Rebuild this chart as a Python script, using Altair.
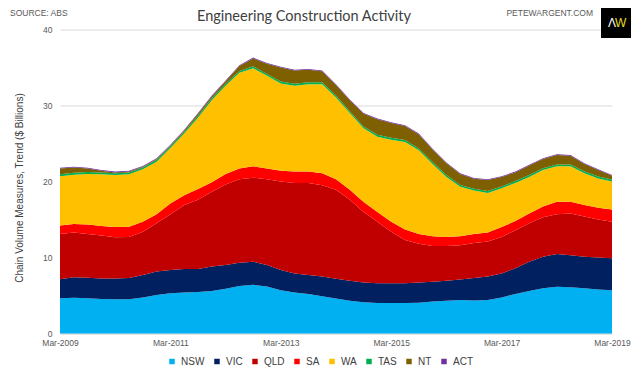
import altair as alt
import pandas as pd

# Quarterly categories, Mar-2009 .. Mar-2019
quarters = [f"{m}-{y}" for y in range(2009, 2020) for m in ["Mar", "Jun", "Sep", "Dec"]][:41]
x_ticks = ["Mar-2009", "Mar-2011", "Mar-2013", "Mar-2015", "Mar-2017", "Mar-2019"]
y_ticks = [0, 10, 20, 30, 40]

states = ["NSW", "VIC", "QLD", "SA", "WA", "TAS", "NT", "ACT"]
colors = ["#00B0F0", "#002060", "#C00000", "#FF0000", "#FFC000", "#00B050", "#7F6000", "#7030A0"]

nsw = [4.65, 4.7, 4.65, 4.55, 4.5, 4.5, 4.75, 5.05, 5.3, 5.4,
       5.45, 5.6, 5.9, 6.25, 6.4, 6.2, 5.7, 5.4, 5.2, 4.9,
       4.6, 4.3, 4.1, 4.0, 4.0, 4.0, 4.05, 4.2, 4.3, 4.4,
       4.35, 4.4, 4.75, 5.2, 5.6, 5.95, 6.15, 6.1, 5.95, 5.8,
       5.7]
vic = [2.5, 2.7, 2.7, 2.7, 2.75, 2.8, 2.95, 3.1, 3.05, 3.1,
       3.05, 3.2, 3.1, 3.05, 3.05, 2.8, 2.65, 2.5, 2.5, 2.6,
       2.6, 2.65, 2.6, 2.6, 2.6, 2.6, 2.65, 2.6, 2.65, 2.7,
       2.95, 3.1, 3.15, 3.4, 3.85, 4.15, 4.3, 4.2, 4.15, 4.2,
       4.2]
qld = [5.95, 5.9, 5.75, 5.65, 5.4, 5.4, 5.7, 6.35, 7.35, 8.4,
       9.1, 9.85, 10.6, 11.0, 11.05, 11.3, 11.65, 11.9, 12.1, 12.0,
       11.7, 10.65, 9.3, 8.1, 6.8, 5.7, 5.1, 4.7, 4.55, 4.5,
       4.6, 4.6, 4.8, 5.0, 5.05, 5.2, 5.25, 5.5, 5.3, 5.0,
       4.8]
sa = [1.1, 1.1, 1.25, 1.25, 1.35, 1.35, 1.3, 1.2, 1.4, 1.3,
      1.4, 1.25, 1.4, 1.4, 1.5, 1.4, 1.4, 1.5, 1.5, 1.6,
      1.4, 1.3, 1.3, 1.3, 1.3, 1.4, 1.3, 1.3, 1.2, 1.2,
      1.2, 1.2, 1.3, 1.2, 1.3, 1.4, 1.65, 1.55, 1.5, 1.55,
      1.6]
wa = [6.5, 6.5, 6.65, 6.8, 6.85, 6.9, 6.9, 6.9, 7.3, 8.1,
      9.4, 10.8, 11.6, 12.6, 12.9, 12.2, 11.5, 11.3, 11.5, 11.7,
      10.75, 10.1, 9.7, 9.9, 10.8, 11.5, 11.0, 9.5, 7.9, 6.5,
      5.7, 5.2, 5.1, 5.0, 4.8, 4.8, 4.65, 4.65, 4.2, 3.85,
      3.7]
tas = [0.25, 0.25, 0.25, 0.25, 0.25, 0.25, 0.25, 0.25, 0.25, 0.25,
       0.25, 0.25, 0.25, 0.25, 0.25, 0.25, 0.25, 0.25, 0.25, 0.25,
       0.25, 0.25, 0.25, 0.25, 0.25, 0.25, 0.25, 0.25, 0.25, 0.25,
       0.25, 0.25, 0.25, 0.25, 0.25, 0.25, 0.25, 0.25, 0.25, 0.25,
       0.25]
nt = [0.75, 0.7, 0.45, 0.2, 0.1, 0.1, 0.1, 0.1, 0.1, 0.15,
      0.25, 0.25, 0.35, 0.65, 1.05, 1.35, 1.85, 1.75, 1.65, 1.45,
      1.4, 1.45, 1.65, 2.05, 1.95, 1.85, 1.85, 1.65, 1.55, 1.45,
      1.3, 1.45, 1.25, 1.15, 1.25, 1.2, 1.25, 1.15, 0.95, 0.85,
      0.5]
act = [0.1, 0.1, 0.1, 0.1, 0.1, 0.1, 0.1, 0.1, 0.1, 0.1,
       0.1, 0.1, 0.1, 0.1, 0.1, 0.1, 0.1, 0.1, 0.1, 0.1,
       0.1, 0.1, 0.1, 0.1, 0.1, 0.1, 0.1, 0.1, 0.1, 0.1,
       0.1, 0.1, 0.1, 0.1, 0.1, 0.1, 0.1, 0.1, 0.1, 0.1,
       0.1]

series = [nsw, vic, qld, sa, wa, tas, nt, act]
rows = []
for k, (st, vals) in enumerate(zip(states, series)):
    for q, v in zip(quarters, vals):
        rows.append({"quarter": q, "state": st, "value": v, "order": k})
df = pd.DataFrame(rows)

FONT = "Liberation Sans"
GREY = "#595959"

area = alt.Chart(df).mark_area(interpolate="linear", opacity=1).encode(
    x=alt.X("quarter:O", sort=quarters,
            scale=alt.Scale(type="point", padding=0),
            axis=alt.Axis(values=x_ticks, title=None, labelAngle=0, labelFont=FONT,
                          labelFontSize=8.5, labelColor=GREY, ticks=False, grid=False,
                          domainColor="#D9D9D9", labelPadding=5)),
    y=alt.Y("value:Q", stack="zero",
            scale=alt.Scale(domain=[0, 40], nice=False),
            axis=alt.Axis(values=y_ticks, title="Chain Volume Measures, Trend ($ Billions)",
                          titleFont=FONT, titleFontSize=10, titleFontWeight="normal",
                          titleColor="#404040", titlePadding=18, titleY=158,
                          labelFont=FONT, labelFontSize=8.5, labelColor=GREY,
                          ticks=False, domain=False, gridColor="#D9D9D9", labelPadding=8)),
    color=alt.Color("state:N", scale=alt.Scale(domain=states, range=colors),
                    legend=alt.Legend(orient="none", legendX=107, legendY=327,
                                      direction="horizontal", title=None,
                                      symbolType="square", symbolSize=30,
                                      symbolStrokeWidth=0, labelFont=FONT,
                                      labelFontSize=10, labelColor="#404040",
                                      columnPadding=7, labelOffset=4)),
    order=alt.Order("order:Q"),
)

one = pd.DataFrame({"t": [0]})

title_txt = alt.Chart(one).mark_text(font="Lato", fontSize=14.5, color="#404040",
                                     align="center", baseline="middle").encode(
    x=alt.value(244), y=alt.value(-12.5), text=alt.value("Engineering Construction Activity"))
source_txt = alt.Chart(one).mark_text(font=FONT, fontSize=8.5, color=GREY,
                                      align="left", baseline="top").encode(
    x=alt.value(-50), y=alt.value(-21), text=alt.value("SOURCE: ABS"))
web_txt = alt.Chart(one).mark_text(font=FONT, fontSize=8.5, color=GREY,
                                   align="right", baseline="top").encode(
    x=alt.value(533), y=alt.value(-21), text=alt.value("PETEWARGENT.COM"))
logo_box = alt.Chart(one).mark_rect(color="#000000").encode(
    x=alt.value(541), x2=alt.value(571), y=alt.value(-26.5), y2=alt.value(8.5))
logo_a = alt.Chart(one).mark_text(font=FONT, fontSize=12, color="#FFFFFF",
                                  align="right", baseline="middle").encode(
    x=alt.value(556), y=alt.value(-7), text=alt.value("Λ"))
logo_w = alt.Chart(one).mark_text(font=FONT, fontSize=12, color="#E8DC1E",
                                  align="left", baseline="middle").encode(
    x=alt.value(555), y=alt.value(-7), text=alt.value("W"))

chart = alt.layer(area, title_txt, source_txt, web_txt, logo_box, logo_a, logo_w).properties(
    width=552, height=304, autosize="none",
    padding={"left": 52, "top": 21.5, "right": 20, "bottom": 37},
).configure_view(stroke=None)

chart.save("out.html", embed_options={"renderer": "svg", "actions": False})
